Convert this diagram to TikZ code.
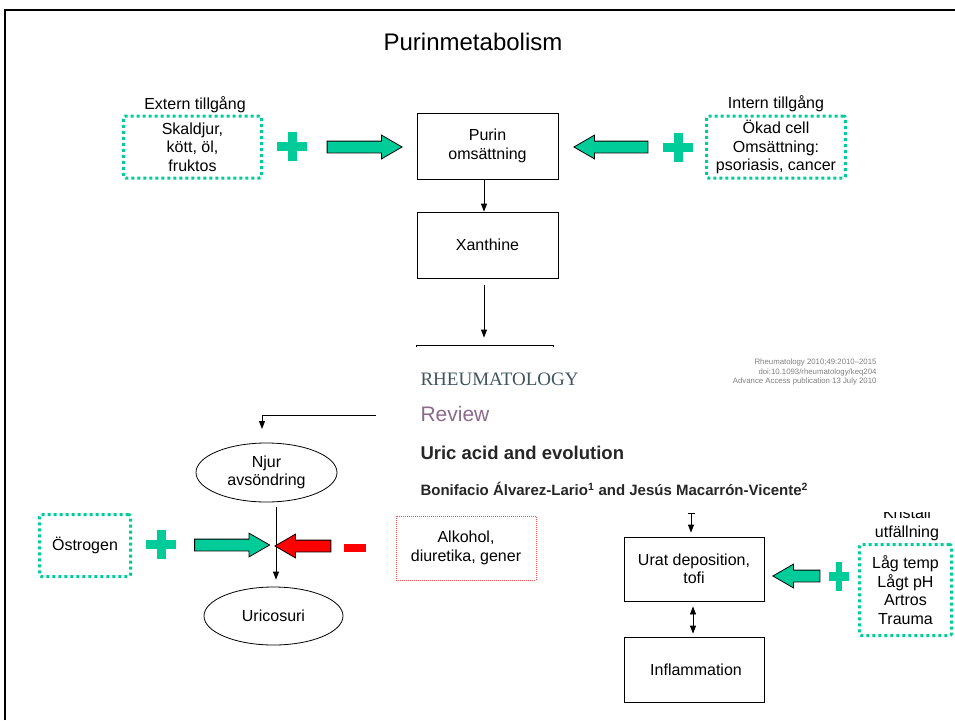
\documentclass[tikz,border=0pt]{standalone}
\usepackage{fontspec}
\setmainfont{Liberation Sans}
\newfontfamily\serifrm{Liberation Serif}
\usetikzlibrary{shapes.geometric,shapes.arrows,arrows.meta}
\definecolor{pgreen}{HTML}{00CC99}
\definecolor{pred}{HTML}{FF0000}
\definecolor{dred}{HTML}{FF4D4D}
\definecolor{rheum}{HTML}{3F5560}
\definecolor{revcol}{HTML}{8C6A8C}
\begin{document}
\begin{tikzpicture}[x=1pt,y=-1pt,font=\fontsize{16}{18.5}\selectfont,
  box/.style={draw=black, line width=0.8pt, minimum width=141pt, minimum height=66pt, align=center, inner sep=0pt},
  gdot/.style={draw=pgreen, line width=3pt, dash pattern=on 3pt off 3pt, rounded corners=2pt, align=center, inner sep=0pt},
  rdot/.style={draw=dred, line width=1pt, dash pattern=on 1pt off 1pt, align=center, inner sep=0pt},
  oval/.style={ellipse, draw=black, line width=0.8pt, align=center, inner sep=0pt},
  blockarr/.style={single arrow, draw=black, line width=0.8pt, minimum width=23pt, single arrow head extend=6pt, single arrow tip angle=60, inner sep=5.5pt},
  garrow/.style={blockarr, fill=pgreen},
  rarrow/.style={blockarr, fill=pred},
  arr/.style={-{Triangle[length=8pt,width=6pt]}, line width=0.8pt},
  plussign/.pic={\fill[pgreen] (-15,-4.5) rectangle (15,4.5); \fill[pgreen] (-4.5,-14.5) rectangle (4.5,14.5);}
]
\useasboundingbox (0,0) rectangle (955,720);
% frame
\draw[line width=2pt] (4.5,720) -- (4.5,10) -- (955,10);
% title
\node (title) at (473,42) {\fontsize{24}{24}\selectfont Purinmetabolism};
% top row
\node (extl) at (195,105) {Extern tillgång};
\node[gdot, minimum width=138pt, minimum height=62pt] (ext) at (192.5,147) {Skaldjur,\\kött, öl,\\fruktos};
\pic at (292,146.5) {plussign};
\node[garrow, minimum height=75pt] (a1) at (359.5,147) {};
\node[box] (purin) at (487.5,146) {Purin\\omsättning};
\node[garrow, minimum height=74pt, shape border rotate=180] (a2) at (616,147) {};
\pic at (678,147) {plussign};
\node (intl) at (776,104) {Intern tillgång};
\node[gdot, minimum width=139pt, minimum height=62pt] (int) at (776,147) {Ökad cell\\Omsättning:\\psoriasis, cancer};
% middle column
\node[box] (xan) at (487.5,245) {Xanthine};
\node[box, minimum width=137pt] (hidden) at (484.5,378) {};
\draw[arr] ([xshift=-3.5pt]purin.south) -- ([xshift=-3.5pt]xan.north);
\draw[arr, shorten <=7pt, shorten >=7pt] ([xshift=-3.5pt]xan.south) -- ([xshift=-0.5pt]hidden.north);
% kristall label (partly hidden by the article image)
\node[align=center] (krist) at (907,524) {Kristall\\utfällning};
% article image
\fill[white] (377,347) rectangle (953,512);
\node[anchor=west, font=\serifrm\fontsize{19}{19}\selectfont, text=rheum] (rheumt) at (417,379) {RHEUMATOLOGY};
\node[anchor=east, align=right, text=gray, font=\fontsize{7.8}{9.5}\selectfont] (cite) at (880,372) {Rheumatology 2010;49:2010--2015\\doi:10.1093/rheumatology/keq204\\Advance Access publication 13 July 2010};
\node[anchor=west, text=revcol, font=\fontsize{21}{21}\selectfont] (review) at (417,414) {Review};
\node[anchor=west, font=\bfseries\fontsize{18.5}{18.5}\selectfont, text=black!85] (uric) at (417,453) {Uric acid and evolution};
\node[anchor=west, font=\bfseries\fontsize{15}{15}\selectfont, text=black!85] (auth) at (417,489) {Bonifacio Álvarez-Lario\textsuperscript{1} and Jesús Macarrón-Vicente\textsuperscript{2}};
% left branch
\coordinate (imgL) at (376,415);
\coordinate (njin) at (262,429);
\draw[arr] (imgL) -| (njin);
\node[oval, minimum width=141pt, minimum height=59pt] (njur) at (266.5,472.5) {Njur\\avsöndring};
\node[oval, minimum width=139pt, minimum height=58pt] (uricos) at (273.5,616) {Uricosuri};
\coordinate (lx) at (276,0);
\draw[arr, shorten <=5pt, shorten >=7pt] (njur.south -| lx) -- (uricos.north -| lx);
\node[gdot, minimum width=91pt, minimum height=62pt] (ostr) at (85,545.5) {Östrogen};
\pic at (161,544) {plussign};
\node[garrow, minimum height=75pt] (a3) at (227,545) {};
\node[rarrow, minimum height=56pt, shape border rotate=180] (a4) at (308,546) {};
\fill[pred] (344,544) rectangle (366,552);
\node[rdot, minimum width=140pt, minimum height=64pt] (alk) at (466,548) {Alkohol,\\diuretika, gener};
% right branch
\node[box, minimum width=140pt, minimum height=64pt] (urat) at (694,569) {Urat deposition,\\tofi};
\node[box, minimum width=140pt, minimum height=65pt] (infl) at (694,669.5) {\hspace*{4pt}Inflammation};
\coordinate (uratin) at (691,513);
\draw[{Bar[width=7pt]}-{Triangle[length=8pt,width=6pt]}, line width=0.8pt, shorten >=4pt] (uratin) -- (urat.north -| uratin);
\coordinate (dx) at (693,0);
\draw[{Triangle[length=8pt,width=6pt]}-{Triangle[length=8pt,width=6pt]}, line width=0.8pt, shorten <=5pt, shorten >=3pt] (urat.south -| dx) -- (infl.north -| dx);
\node[garrow, minimum height=47pt, shape border rotate=180] (a5) at (801.5,576) {};
\pic[xscale=0.65] at (839,576) {plussign};
\node[gdot, minimum width=92pt, minimum height=91pt] (lag) at (905.5,590) {Låg temp\\Lågt pH\\Artros\\Trauma};
\end{tikzpicture}
\end{document}
